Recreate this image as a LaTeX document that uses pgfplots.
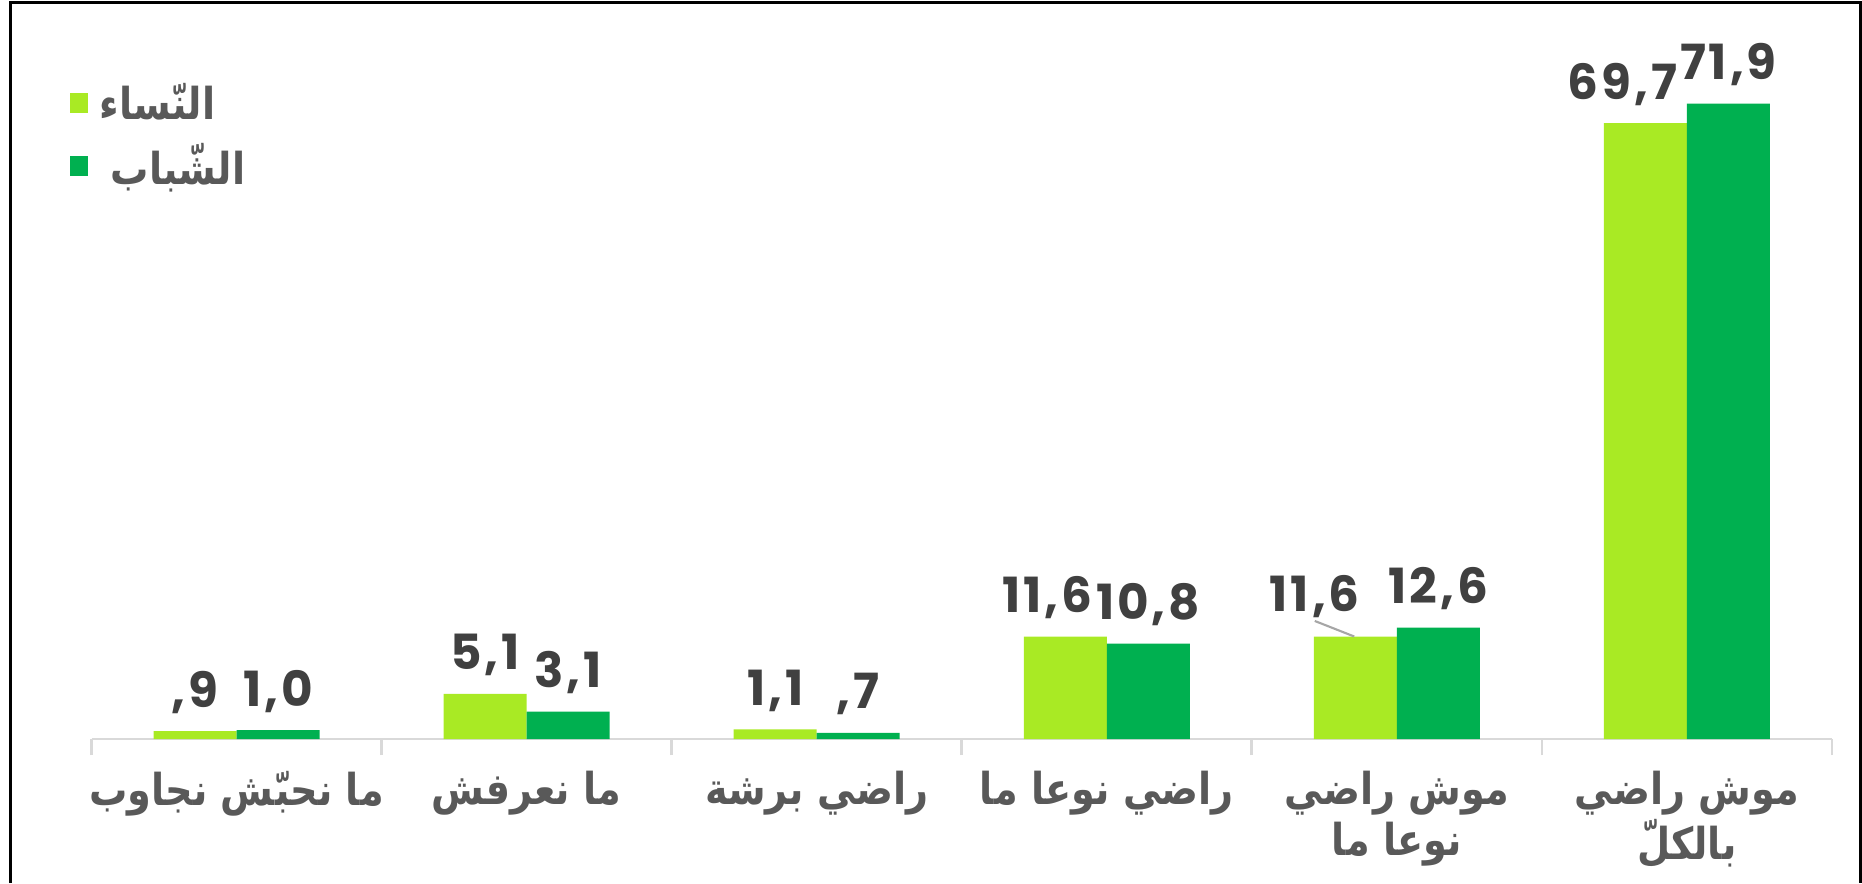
\documentclass[border=0pt]{standalone}
\usepackage{pgfplots}
\usepackage{pgfplotstable}
\pgfplotsset{compat=1.18}
\usepackage{fontspec}
\setmainfont{DejaVu Sans}
\newfontfamily\arabicfont[Script=Arabic, FakeStretch=0.87]{DejaVu Sans}
\newfontfamily\numfont[LetterSpace=6]{Poppins}
\TeXXeTstate=1
\definecolor{lightgr}{HTML}{A9EA24}
\definecolor{darkgr}{HTML}{00B050}
\definecolor{numcol}{HTML}{404040}
\definecolor{txtcol}{HTML}{595959}
\definecolor{axcol}{HTML}{D9D9D9}

% women (light) and youth (dark); lab = printed text
% (labels that Excel moved aside are set further down)
\pgfplotstableread{
x y lab
0 0.9 {,9}
1 5.1 {5,1}
2 1.1 {1,1}
3 11.6 {}
4 11.6 {}
5 69.7 {}
}\women
\pgfplotstableread{
x y lab
0 1.0 {1,0}
1 3.1 {3,1}
2 0.7 {,7}
3 10.8 {10,8}
4 12.6 {12,6}
5 71.9 {71,9}
}\youth

\tikzset{numlab/.style={font=\numfont\bfseries\fontsize{13.8}{16}\selectfont,
  text=numcol, anchor=base}}

\begin{document}
\begin{tikzpicture}
\useasboundingbox (0,0) rectangle (18.62,8.83);
\draw[line width=0.03cm] (0.10,0) -- (0.10,8.80) -- (18.60,8.80) -- (18.60,0);
\begin{axis}[
  at={(0.915cm,1.44cm)}, anchor=south west,
  scale only axis,
  width=17.405cm, height=7.36cm,
  xmin=-0.5, xmax=5.5, ymin=0, ymax=83.3,
  axis x line*=bottom, axis y line=none,
  x axis line style={axcol, line width=0.8pt},
  ybar, bar width=0.83cm,
  xtick={0,...,5},
  major tick length=0pt,
  minor xtick={-0.5,0.5,1.5,2.5,3.5,4.5,5.5},
  minor tick length=0.16cm,
  tick align=outside,
  minor tick style={axcol, line width=0.8pt},
  xticklabels={
    {\beginR ما نحبّش نجاوب\endR},
    {\beginR ما نعرفش\endR},
    {\beginR راضي برشة\endR},
    {\beginR راضي نوعا ما\endR},
    {\beginR موش راضي\endR\\\beginR نوعا ما\endR},
    {\beginR موش راضي\endR\\\beginR بالكلّ\endR}},
  xticklabel style={align=center, font=\arabicfont\bfseries\fontsize{12.5}{14.5}\selectfont,
    text=txtcol, yshift=-0.2cm},
  point meta=explicit symbolic,
  nodes near coords,
  nodes near coords style={numlab, yshift=0.24cm},
  clip=false,
  legend style={at={(axis description cs:-0.013,0.901)}, anchor=north west,
    draw=none, fill=none, inner sep=0pt, row sep=0.05cm,
    font=\arabicfont\bfseries\fontsize{12.5}{15}\selectfont, text=txtcol},
  legend cell align=left,
  legend image code/.code={\fill[#1] (0cm,-0.09cm) rectangle (0.18cm,0.11cm);},
]
\addplot[fill=lightgr, draw=none, bar shift=-0.415cm] table[x=x, y=y, meta=lab] {\women};
\addplot[fill=darkgr, draw=none, bar shift=0.415cm] table[x=x, y=y, meta=lab] {\youth};
\legend{{\hspace{0.05cm}\beginR النّساء\endR}, {\hspace{0.16cm}\beginR الشّباب\endR}}
% labels moved aside to avoid overlap
\node[numlab] at (axis cs:2.795,14.32) {11,6};
\node[numlab] at (axis cs:4.778,72.4) {69,7};
\draw[gray!70, line width=0.6pt] (axis cs:3.717,13.36) -- (axis cs:3.853,11.6);
\node[numlab] at (axis cs:3.717,14.42) {11,6};
\end{axis}
\end{tikzpicture}
\end{document}
